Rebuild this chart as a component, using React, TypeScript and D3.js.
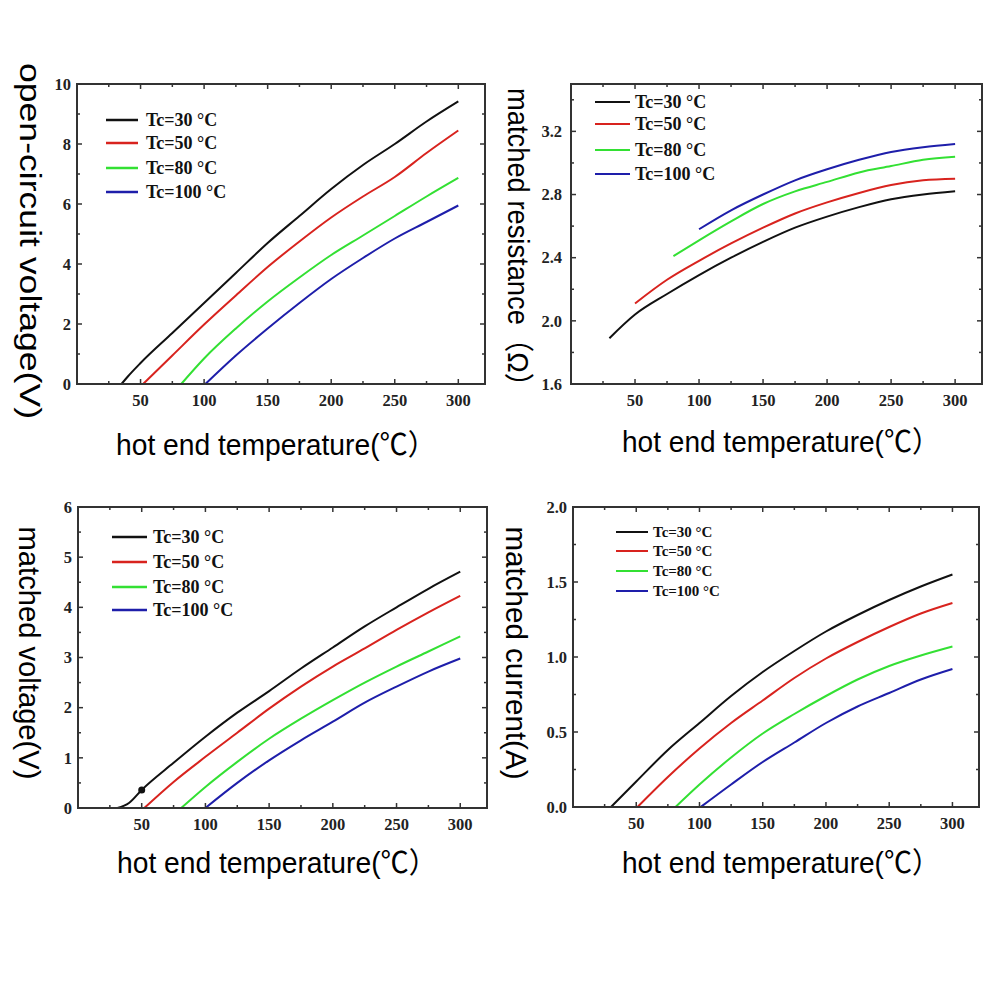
import React from 'react';
import * as d3 from 'd3';

const seriesLabels = ['Tc=30 °C', 'Tc=50 °C', 'Tc=80 °C', 'Tc=100 °C'];
const seriesColors = ['#111111', '#d8231e', '#33e033', '#1e1eaa'];

const xMajor = [50, 100, 150, 200, 250, 300];
const xMinor = [25, 75, 125, 175, 225, 275];

// Panel 1: open-circuit voltage (V)
const ocv30 = [[35, 0], [40, 0.25], [50, 0.7], [75, 1.7], [100, 2.7], [125, 3.7], [150, 4.7], [175, 5.6], [200, 6.5], [225, 7.3], [250, 8.0], [275, 8.75], [300, 9.42]];
const ocv50 = [[52, 0], [75, 0.95], [100, 1.98], [125, 2.95], [150, 3.9], [175, 4.75], [200, 5.55], [225, 6.25], [250, 6.9], [275, 7.7], [300, 8.45]];
const ocv80 = [[82, 0], [100, 0.85], [125, 1.85], [150, 2.75], [175, 3.55], [200, 4.3], [225, 4.95], [250, 5.6], [275, 6.25], [300, 6.87]];
const ocv100 = [[101, 0], [125, 0.95], [150, 1.85], [175, 2.7], [200, 3.5], [225, 4.2], [250, 4.85], [275, 5.4], [300, 5.95]];
const ocvYMajor = [0, 2, 4, 6, 8, 10];
const ocvYMinor = [1, 3, 5, 7, 9];

// Panel 2: matched resistance (Ω)
const res30 = [[30, 1.89], [50, 2.04], [75, 2.17], [100, 2.29], [125, 2.4], [150, 2.5], [175, 2.59], [200, 2.66], [225, 2.72], [250, 2.77], [275, 2.8], [300, 2.82]];
const res50 = [[50, 2.11], [75, 2.26], [100, 2.38], [125, 2.49], [150, 2.59], [175, 2.68], [200, 2.75], [225, 2.81], [250, 2.86], [275, 2.89], [300, 2.9]];
const res80 = [[80, 2.41], [100, 2.51], [125, 2.63], [150, 2.74], [175, 2.82], [200, 2.88], [225, 2.94], [250, 2.98], [275, 3.02], [300, 3.04]];
const res100 = [[100, 2.58], [125, 2.7], [150, 2.8], [175, 2.89], [200, 2.96], [225, 3.02], [250, 3.07], [275, 3.1], [300, 3.12]];
const resYMajor = [1.6, 2.0, 2.4, 2.8, 3.2];
const resYMinor = [1.8, 2.2, 2.6, 3.0, 3.4];

// Panel 3: matched voltage (V)
const mv30 = [[31, 0], [40, 0.1], [50, 0.36], [75, 0.9], [100, 1.42], [125, 1.9], [150, 2.33], [175, 2.78], [200, 3.2], [225, 3.62], [250, 4.0], [275, 4.37], [300, 4.71]];
const mv50 = [[52, 0], [75, 0.52], [100, 1.02], [125, 1.5], [150, 1.98], [175, 2.42], [200, 2.82], [225, 3.18], [250, 3.55], [275, 3.9], [300, 4.23]];
const mv80 = [[81, 0], [100, 0.42], [125, 0.92], [150, 1.38], [175, 1.78], [200, 2.15], [225, 2.5], [250, 2.82], [275, 3.12], [300, 3.42]];
const mv100 = [[100, 0], [125, 0.5], [150, 0.95], [175, 1.35], [200, 1.72], [225, 2.1], [250, 2.42], [275, 2.72], [300, 2.98]];
const mvMarker = [[50, 0.36]];
const mvYMajor = [0, 1, 2, 3, 4, 5, 6];
const mvYMinor = [0.5, 1.5, 2.5, 3.5, 4.5, 5.5];

// Panel 4: matched current (A)
const mc30 = [[30, 0], [50, 0.17], [75, 0.38], [100, 0.56], [125, 0.74], [150, 0.9], [175, 1.04], [200, 1.17], [225, 1.28], [250, 1.38], [275, 1.47], [300, 1.55]];
const mc50 = [[51, 0], [75, 0.2], [100, 0.39], [125, 0.56], [150, 0.71], [175, 0.86], [200, 0.99], [225, 1.1], [250, 1.2], [275, 1.29], [300, 1.36]];
const mc80 = [[81, 0], [100, 0.15], [125, 0.33], [150, 0.49], [175, 0.62], [200, 0.74], [225, 0.85], [250, 0.94], [275, 1.01], [300, 1.07]];
const mc100 = [[101, 0], [125, 0.15], [150, 0.3], [175, 0.43], [200, 0.56], [225, 0.67], [250, 0.76], [275, 0.85], [300, 0.92]];
const mcYMajor = [0, 0.5, 1.0, 1.5, 2.0];
const mcYMinor = [0.25, 0.75, 1.25, 1.75];

const xTitle = 'hot end temperature(℃）';

const axisColor = '#333';
const serif = '"Liberation Serif", "Times New Roman", serif';
const sans = '"Liberation Sans", Arial, "Noto Sans CJK SC", sans-serif';

type PanelProps = {
  box: { l: number; t: number; r: number; b: number };
  yDomain: [number, number];
  yMajor: number[];
  yMinor: number[];
  yFmt: (v: number) => string;
  yLabelGap: number;
  series: number[][][];
  legend: { x1: number; x2: number; tx: number; rows: number[]; fs: number; sw: number };
  yTitle: { text: string; x: number; cy: number; len: number };
  xTitleBox: { cx: number; y: number; len: number };
  markers?: number[][];
};

function Panel(p: PanelProps) {
  const { box } = p;
  const x = d3.scaleLinear().domain([0, 321]).range([box.l, box.r]);
  const y = d3.scaleLinear().domain(p.yDomain).range([box.b, box.t]);
  const line = d3
    .line<number[]>()
    .x((d) => x(d[0]))
    .y((d) => y(d[1]))
    .curve(d3.curveMonotoneX);
  const maj = 5;
  const min = 3;
  return (
    <g>
      {p.series.map((s, i) => (
        <path key={i} d={line(s) || ''} fill="none" stroke={seriesColors[i]} strokeWidth={2} />
      ))}
      {(p.markers || []).map((m, i) => (
        <circle key={'m' + i} cx={x(m[0])} cy={y(m[1])} r={3.5} fill="#111" />
      ))}
      <rect x={box.l} y={box.t} width={box.r - box.l} height={box.b - box.t} fill="none" stroke={axisColor} strokeWidth={2} />
      {xMajor.concat(xMinor).map((v, i) => {
        const len = xMajor.includes(v) ? maj : min;
        return (
          <g key={'xt' + i}>
            <line x1={x(v)} x2={x(v)} y1={box.b} y2={box.b - len} stroke={axisColor} strokeWidth={1.5} />
            <line x1={x(v)} x2={x(v)} y1={box.t} y2={box.t + len} stroke={axisColor} strokeWidth={1.5} />
          </g>
        );
      })}
      {p.yMajor.concat(p.yMinor).map((v, i) => {
        const len = p.yMajor.includes(v) ? maj : min;
        return (
          <g key={'yt' + i}>
            <line x1={box.l} x2={box.l + len} y1={y(v)} y2={y(v)} stroke={axisColor} strokeWidth={1.5} />
            <line x1={box.r} x2={box.r - len} y1={y(v)} y2={y(v)} stroke={axisColor} strokeWidth={1.5} />
          </g>
        );
      })}
      {xMajor.map((v) => (
        <text key={'xl' + v} x={x(v)} y={box.b + 22} textAnchor="middle" fontFamily={serif} fontWeight="bold" fontSize={16.5} fill="#222">
          {String(v)}
        </text>
      ))}
      {p.yMajor.map((v) => (
        <text key={'yl' + v} x={box.l - p.yLabelGap} y={y(v)} dy="0.35em" textAnchor="end" fontFamily={serif} fontWeight="bold" fontSize={16.5} fill="#222">
          {p.yFmt(v)}
        </text>
      ))}
      {seriesLabels.map((lab, i) => (
        <g key={'lg' + i}>
          <line x1={p.legend.x1} x2={p.legend.x2} y1={p.legend.rows[i]} y2={p.legend.rows[i]} stroke={seriesColors[i]} strokeWidth={p.legend.sw} />
          <text x={p.legend.tx} y={p.legend.rows[i]} dy="0.35em" fontFamily={serif} fontWeight="bold" fontSize={p.legend.fs} fill="#111">
            {lab}
          </text>
        </g>
      ))}
      <text
        x={p.xTitleBox.cx}
        y={p.xTitleBox.y}
        textAnchor="middle"
        fontFamily={sans}
        fontSize={29}
        fill="#000"
        textLength={p.xTitleBox.len}
        lengthAdjust="spacingAndGlyphs"
      >
        {xTitle}
      </text>
      <text
        transform={`translate(${p.yTitle.x},${p.yTitle.cy}) rotate(90)`}
        textAnchor="middle"
        dy="0.35em"
        fontFamily={sans}
        fontSize={30}
        fill="#000"
        textLength={p.yTitle.len}
        lengthAdjust="spacingAndGlyphs"
      >
        {p.yTitle.text}
      </text>
    </g>
  );
}

export default function App() {
  const f0 = (v: number) => d3.format('d')(v);
  const f1 = (v: number) => d3.format('.1f')(v);
  return (
    <svg width={1000} height={1000} style={{ position: 'absolute', left: 0, top: 0, background: '#fff' }}>
      <rect x={0} y={0} width={1000} height={1000} fill="#fff" />
      <Panel
        box={{ l: 77, t: 84, r: 485, b: 384 }}
        yDomain={[0, 10]}
        yMajor={ocvYMajor}
        yMinor={ocvYMinor}
        yFmt={f0}
        yLabelGap={6}
        series={[ocv30, ocv50, ocv80, ocv100]}
        legend={{ x1: 106, x2: 138, tx: 146, rows: [120, 143, 168, 192], fs: 18, sw: 2.5 }}
        yTitle={{ text: 'open-circuit voltage(V)', x: 30, cy: 241, len: 356 }}
        xTitleBox={{ cx: 276, y: 455, len: 320 }}
      />
      <Panel
        box={{ l: 571, t: 84, r: 982, b: 384 }}
        yDomain={[1.6, 3.5]}
        yMajor={resYMajor}
        yMinor={resYMinor}
        yFmt={f1}
        yLabelGap={9}
        series={[res30, res50, res80, res100]}
        legend={{ x1: 595, x2: 630, tx: 635, rows: [102, 124, 150, 174], fs: 18, sw: 2 }}
        yTitle={{ text: 'matched resistance（Ω）', x: 518, cy: 244, len: 312 }}
        xTitleBox={{ cx: 781, y: 452, len: 318 }}
      />
      <Panel
        box={{ l: 78, t: 507, r: 487, b: 808 }}
        yDomain={[0, 6]}
        yMajor={mvYMajor}
        yMinor={mvYMinor}
        yFmt={f0}
        yLabelGap={6}
        series={[mv30, mv50, mv80, mv100]}
        markers={mvMarker}
        legend={{ x1: 112, x2: 147, tx: 153, rows: [537, 562, 587, 610], fs: 18, sw: 2.5 }}
        yTitle={{ text: 'matched voltage(V)', x: 29, cy: 653, len: 253 }}
        xTitleBox={{ cx: 277, y: 873, len: 320 }}
      />
      <Panel
        box={{ l: 573, t: 507, r: 979, b: 807 }}
        yDomain={[0, 2]}
        yMajor={mcYMajor}
        yMinor={mcYMinor}
        yFmt={f1}
        yLabelGap={6}
        series={[mc30, mc50, mc80, mc100]}
        legend={{ x1: 616, x2: 648, tx: 653, rows: [532, 551, 571, 591], fs: 15, sw: 2 }}
        yTitle={{ text: 'matched current(A)', x: 516, cy: 653, len: 253 }}
        xTitleBox={{ cx: 781, y: 873, len: 318 }}
      />
    </svg>
  );
}
